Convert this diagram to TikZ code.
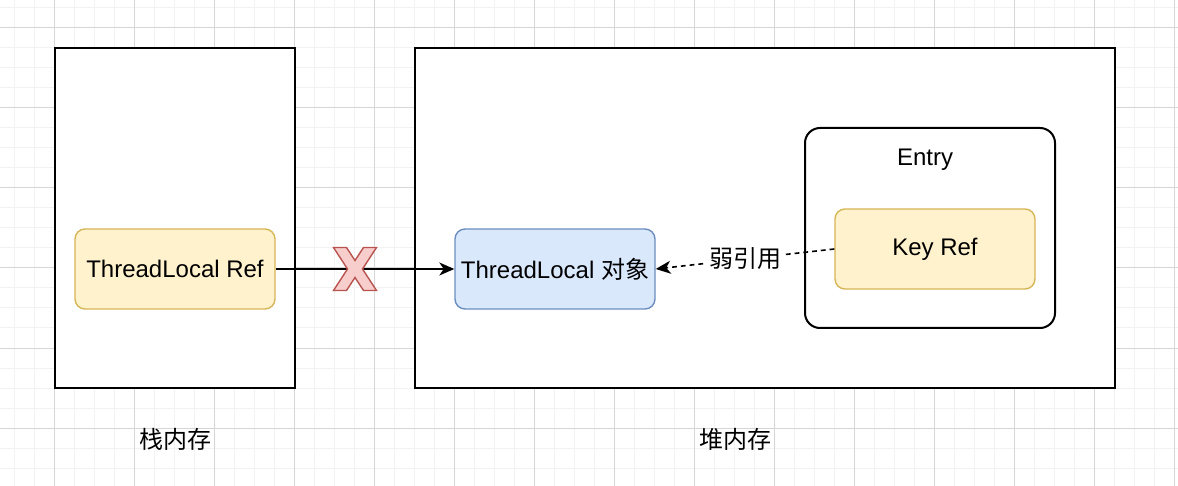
\documentclass[tikz,border=0pt]{standalone}
\usepackage{fontspec}
\setmainfont{Liberation Sans}
\newfontfamily\cjk{Noto Sans CJK SC}
\usepackage{tikz}
\usetikzlibrary{arrows.meta,positioning,calc}
\definecolor{TLGridMinor}{HTML}{F2F2F2}
\definecolor{TLGridMajor}{HTML}{D6D6D6}
\definecolor{TLYellow}{HTML}{FFF2CC}
\definecolor{TLYellowEdge}{HTML}{D6B656}
\definecolor{TLBlue}{HTML}{DAE8FC}
\definecolor{TLBlueEdge}{HTML}{6C8EBF}
\definecolor{TLRed}{HTML}{F8CECC}
\definecolor{TLRedEdge}{HTML}{B85450}
\tikzset{
  region/.style={draw=black,line width=1pt,fill=white,inner sep=0pt},
  holder/.style={region,rounded corners=7.5pt},
  refbox/.style={draw=TLYellowEdge,line width=0.7pt,fill=TLYellow,rounded corners=5pt,
                 minimum width=100pt,minimum height=40pt,inner sep=0pt,
                 font=\fontsize{12}{14}\selectfont},
  objbox/.style={refbox,draw=TLBlueEdge,fill=TLBlue},
  caption/.style={font=\fontsize{12}{14}\selectfont,inner sep=0pt},
  strongref/.style={-{Stealth[length=7.5pt,width=6.5pt,inset=2.2pt]},line width=0.75pt},
  weakref/.style={strongref,line width=0.8pt,dash pattern=on 2.4pt off 2pt},
}
\newcommand{\cutmark}[2]{%
  \begin{scope}[shift={(#1,#2)}]
    \path[fill=TLRed,draw=TLRedEdge,line width=0.7pt,line join=miter]
      (-21.5,-21.5) -- (-8.5,-21.5) -- (0,-8.5) -- (8.5,-21.5) -- (21.5,-21.5)
      -- (7.5,0) -- (21.5,21.5) -- (8.5,21.5) -- (0,8.5) -- (-8.5,21.5)
      -- (-21.5,21.5) -- (-7.5,0) -- cycle;
  \end{scope}%
}

\begin{document}
\begin{tikzpicture}[x=0.5pt,y=-0.5pt]
    \useasboundingbox (0,0) rectangle (1178,486);

    % ------------------------------------------------------------------ grid
    \foreach \gx in {14,34,...,1174} \draw[TLGridMinor,line width=0.5pt] (\gx,0) -- (\gx,486);
    \foreach \gy in {8,28,...,486}   \draw[TLGridMinor,line width=0.5pt] (0,\gy) -- (1178,\gy);
    \foreach \gx in {54,134,...,1174} \draw[TLGridMajor,line width=0.5pt] (\gx,0) -- (\gx,486);
    \foreach \gy in {28,108,...,486}  \draw[TLGridMajor,line width=0.5pt] (0,\gy) -- (1178,\gy);

    % ------------------------------------------------------------ two memories
    \node[region,minimum width=120pt,minimum height=170pt] (stack) at (175,218) {};
    \node[region,minimum width=350pt,minimum height=170pt] (heap)  at (765,218) {};
    \node[caption] (stacklabel) at (175,439) {\cjk 栈内存};
    \node[caption] (heaplabel)  at (735,439) {\cjk 堆内存};

    % ------------------------------------------------------------------ entry
    \node[holder,minimum width=125pt,minimum height=100pt] (entry) at (930,228) {};
    \node[caption] (entrylabel) at (925,160) {Entry};
    \node[refbox] (keyref) at (935,249) {Key Ref};

    % ---------------------------------------------------------- thread locals
    \node[refbox] (tlref) at (175,269) {ThreadLocal Ref};
    \node[objbox] (tlobj) at (555,269) {ThreadLocal {\cjk 对象}};

    \draw[strongref] (tlref.east) -- (tlobj.west);
    \coordinate (cut) at (355,269);
    \cutmark{355}{269}

    \draw[weakref] (keyref.west) -- node[caption,fill=white,inner sep=1.5pt] (weaklabel)
      {\cjk 弱引用} (tlobj.east);
\end{tikzpicture}
\end{document}
